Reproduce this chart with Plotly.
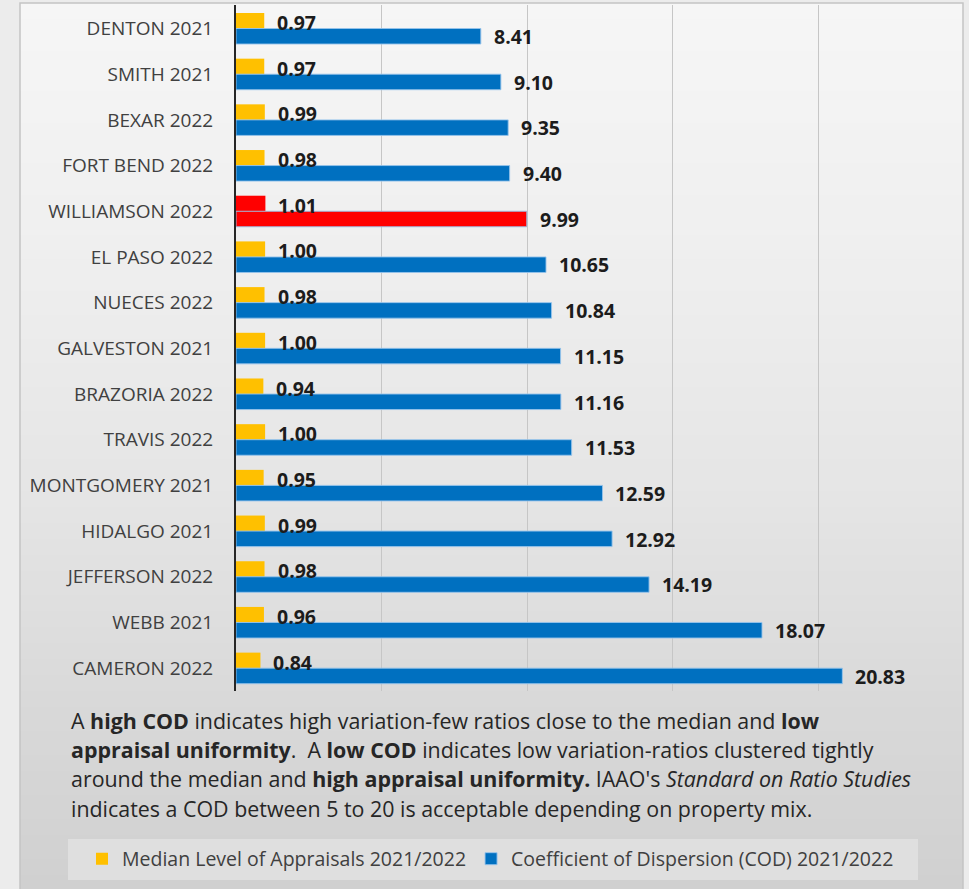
import plotly.graph_objects as go

# ---- data -------------------------------------------------------------
counties = [
    "DENTON 2021", "SMITH 2021", "BEXAR 2022", "FORT BEND 2022",
    "WILLIAMSON 2022", "EL PASO 2022", "NUECES 2022", "GALVESTON 2021",
    "BRAZORIA 2022", "TRAVIS 2022", "MONTGOMERY 2021", "HIDALGO 2021",
    "JEFFERSON 2022", "WEBB 2021", "CAMERON 2022",
]
median_level = [0.97, 0.97, 0.99, 0.98, 1.01, 1.00, 0.98, 1.00,
                0.94, 1.00, 0.95, 0.99, 0.98, 0.96, 0.84]
cod = [8.41, 9.10, 9.35, 9.40, 9.99, 10.65, 10.84, 11.15,
       11.16, 11.53, 12.59, 12.92, 14.19, 18.07, 20.83]
highlight = "WILLIAMSON 2022"

series_names = ["Median Level of Appraisals 2021/2022",
                "Coefficient of Dispersion (COD) 2021/2022"]

# ---- styling ----------------------------------------------------------
W, H = 969, 889
L, R, T, B = 236, 14, 5, 198
PW, PH = W - L - R, H - T - B
FONT = "Open Sans"
YELLOW, BLUE, RED = "#FFC000", "#0070C0", "#FF0000"


def px_x(px):
    return (px - L) / PW


def px_y(py):
    return (H - B - py) / PH


yellow_cols = [RED if c == highlight else YELLOW for c in counties]
blue_cols = [RED if c == highlight else BLUE for c in counties]

fig = go.Figure()
fig.add_trace(go.Bar(
    y=counties, x=median_level, orientation="h", name=series_names[0],
    marker=dict(color=yellow_cols, line=dict(width=0)),
))
fig.add_trace(go.Bar(
    y=counties, x=cod, orientation="h", name=series_names[1],
    marker=dict(color=blue_cols, line=dict(color="rgba(150,195,235,0.9)", width=1)),
))

# value labels just past each bar end
LABEL_FONT = dict(family=FONT, size=19.5, color="#1c1c1c")
annotations = []
for c, v in zip(counties, median_level):
    annotations.append(dict(x=v, y=c, xref="x", yref="y", text=f"<b>{v:.2f}</b>",
                            showarrow=False, xanchor="left", xshift=11, yshift=6,
                            font=LABEL_FONT))
for c, v in zip(counties, cod):
    annotations.append(dict(x=v, y=c, xref="x", yref="y", text=f"<b>{v:.2f}</b>",
                            showarrow=False, xanchor="left", xshift=11, yshift=-8,
                            font=LABEL_FONT))

# explanatory note under the chart
NB = "\u00a0"
note_lines = [
    "A <b>high COD</b> indicates high variation-few ratios close to the median and <b>low</b>",
    f"<b>appraisal uniformity</b>.{NB} A <b>low COD</b> indicates low variation-ratios clustered tightly",
    "around the median and <b>high appraisal uniformity.</b> IAAO's <i>Standard on Ratio Studies</i>",
    "indicates a COD between 5 to 20 is acceptable depending on property mix.",
]
note_y = [720, 749, 778, 808]
for line, py in zip(note_lines, note_y):
    annotations.append(dict(x=px_x(69), y=px_y(py), xref="paper", yref="paper",
                            text=line, showarrow=False, xanchor="left", yanchor="middle",
                            font=dict(family=FONT, size=21.4, color="#262626")))

# soft grey vertical gradient behind the panel
shapes = []
stops = [(0, (246, 246, 246)), (250, (239, 239, 239)), (500, (229, 229, 229)),
         (700, (217, 217, 217)), (889, (208, 208, 208))]


def grad(py):
    for (y0, c0), (y1, c1) in zip(stops[:-1], stops[1:]):
        if y0 <= py <= y1:
            t = (py - y0) / (y1 - y0)
            return tuple(round(a + (b - a) * t) for a, b in zip(c0, c1))
    return stops[-1][1]


band = 8
py = 3
while py < H:
    r, g, b = grad(py + band / 2)
    shapes.append(dict(type="rect", xref="paper", yref="paper", layer="below",
                       x0=px_x(20), x1=px_x(963), y0=px_y(py), y1=px_y(min(py + band, H)),
                       fillcolor=f"rgb({r},{g},{b})", line=dict(width=0)))
    py += band
# panel outline
shapes.append(dict(type="rect", xref="paper", yref="paper", layer="below",
                   x0=px_x(20), x1=px_x(963), y0=px_y(3), y1=px_y(H + 5),
                   fillcolor="rgba(0,0,0,0)", line=dict(color="#c4c4c4", width=1.5)))
# legend box
shapes.append(dict(type="rect", xref="paper", yref="paper", layer="below",
                   x0=px_x(68), x1=px_x(918), y0=px_y(839), y1=px_y(880),
                   fillcolor="#dfdfdf", line=dict(width=0)))

fig.update_layout(
    width=W, height=H,
    margin=dict(l=L, r=R, t=T, b=B),
    paper_bgcolor="#ececec",
    plot_bgcolor="rgba(0,0,0,0)",
    barmode="group", bargap=0.32, bargroupgap=0.0,
    font=dict(family=FONT, color="#404040"),
    shapes=shapes,
    annotations=annotations,
    showlegend=True,
    legend=dict(orientation="h", x=px_x(82), y=px_y(859), xanchor="left", yanchor="middle",
                bgcolor="rgba(0,0,0,0)", font=dict(family=FONT, size=19.5, color="#404040"),
                traceorder="normal", itemwidth=30),
)
fig.update_xaxes(range=[0, 24.7], dtick=5, tick0=0, showgrid=True, gridcolor="#c6c6c6",
                 gridwidth=1, showticklabels=False, zeroline=False, showline=False,
                 fixedrange=True)
fig.update_yaxes(autorange="reversed", showline=True, linecolor="#262626", linewidth=2,
                 ticks="", ticklabelstandoff=17, automargin=False,
                 tickfont=dict(family=FONT, size=19, color="#404040"), showgrid=False)

fig.write_html("out.html")
